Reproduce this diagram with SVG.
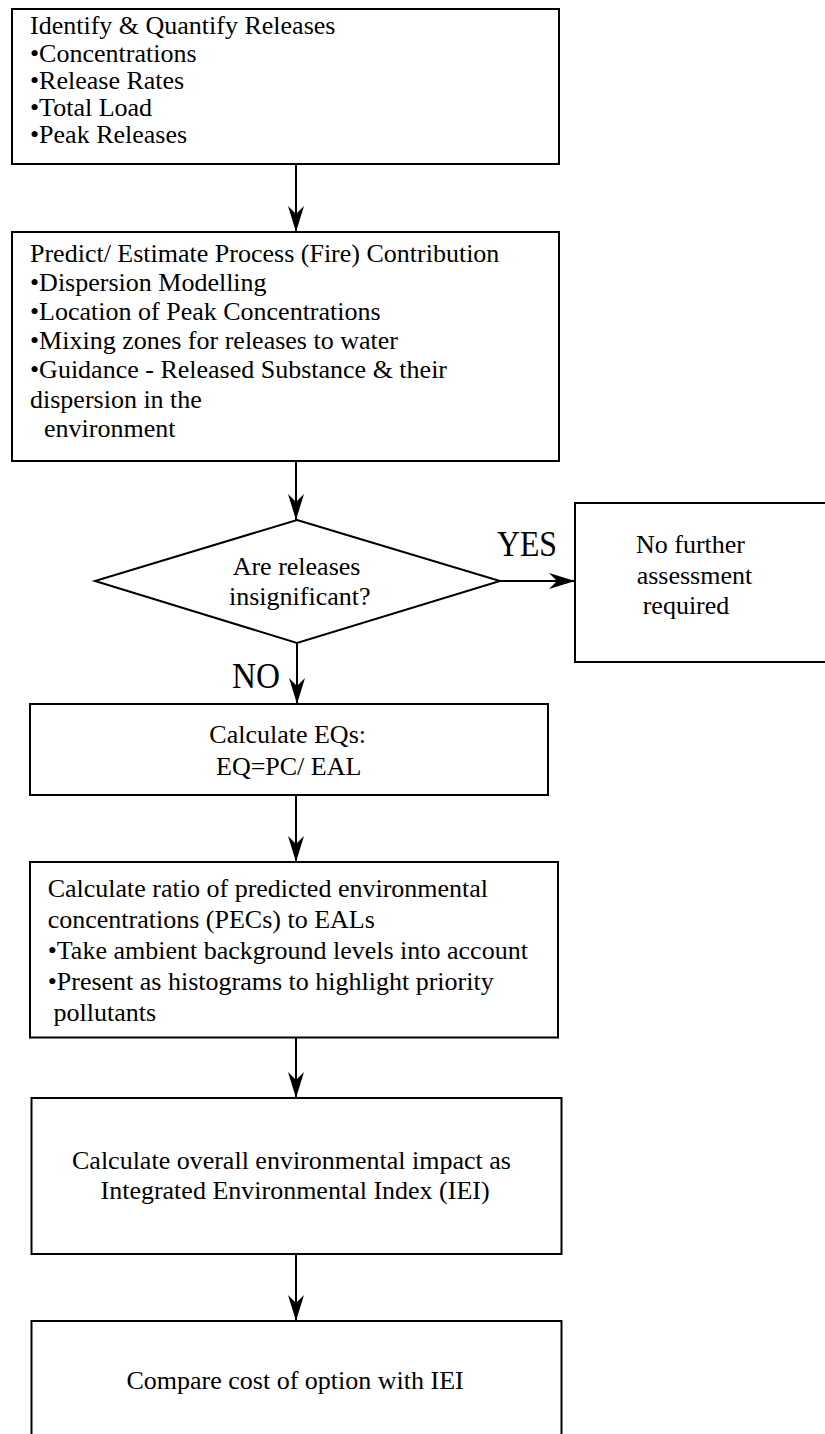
<svg xmlns="http://www.w3.org/2000/svg" width="825" height="1434" viewBox="0 0 825 1434">
  <style>
    .box { fill: #ffffff; stroke: #000000; stroke-width: 2; }
    .lbl { font-family: "Liberation Serif", "Times New Roman", serif; font-size: 26px; fill: #000000; }
    .big { font-family: "Liberation Serif", "Times New Roman", serif; font-size: 35px; fill: #000000; }
    .link { stroke: #000000; stroke-width: 2; fill: none; marker-end: url(#head); }
  </style>
  <defs>
    <marker id="head" viewBox="0 0 28 18" markerWidth="28" markerHeight="18" refX="26" refY="9" orient="auto" markerUnits="userSpaceOnUse">
      <path d="M0,1 L26,9 L0,17 L8,9 Z" fill="#000000"/>
    </marker>
  </defs>
  <rect width="825" height="1434" fill="#ffffff"/>

  <!-- flow connectors -->
  <g id="connectors">
    <line class="link" x1="296" y1="164" x2="296" y2="232"/>
    <line class="link" x1="296" y1="461" x2="296" y2="520"/>
    <line class="link" x1="500" y1="581" x2="575" y2="581"/>
    <line class="link" x1="297" y1="643" x2="297" y2="704"/>
    <line class="link" x1="296" y1="795" x2="296" y2="862"/>
    <line class="link" x1="296" y1="1031" x2="296" y2="1098"/>
    <line class="link" x1="296" y1="1254" x2="296" y2="1321"/>
    <text class="big" x="497" y="556" textLength="60" lengthAdjust="spacingAndGlyphs">YES</text>
    <text class="big" x="232" y="688" textLength="48" lengthAdjust="spacingAndGlyphs">NO</text>
  </g>

  <g id="identify">
    <rect class="box" x="12" y="9" width="547" height="155"/>
    <text class="lbl" x="30" y="34.3">Identify &amp; Quantify Releases</text>
    <text class="lbl" x="30" y="61.5">•Concentrations</text>
    <text class="lbl" x="30" y="88.7">•Release Rates</text>
    <text class="lbl" x="30" y="115.9">•Total Load</text>
    <text class="lbl" x="30" y="143.1">•Peak Releases</text>
  </g>

  <g id="predict">
    <rect class="box" x="12" y="232" width="547" height="229"/>
    <text class="lbl" x="30" y="261.7">Predict/ Estimate Process (Fire) Contribution</text>
    <text class="lbl" x="30" y="290.9">•Dispersion Modelling</text>
    <text class="lbl" x="30" y="320">•Location of Peak Concentrations</text>
    <text class="lbl" x="30" y="349.2">•Mixing zones for releases to water</text>
    <text class="lbl" x="30" y="378.4">•Guidance - Released Substance &amp; their</text>
    <text class="lbl" x="30" y="407.5">dispersion in the</text>
    <text class="lbl" x="44" y="436.7">environment</text>
  </g>

  <g id="decision">
    <polygon class="box" points="297,520 500,581 297,643 95,581"/>
    <text class="lbl" x="232.7" y="575">Are releases</text>
    <text class="lbl" x="229" y="605">insignificant?</text>
  </g>

  <g id="no-further">
    <rect class="box" x="575" y="503" width="262" height="159"/>
    <text class="lbl" x="636" y="553">No further</text>
    <text class="lbl" x="636.7" y="584">assessment</text>
    <text class="lbl" x="642.7" y="614">required</text>
  </g>

  <g id="calc-eq">
    <rect class="box" x="30" y="704" width="518" height="91"/>
    <text class="lbl" x="209.3" y="742.7">Calculate EQs:</text>
    <text class="lbl" x="216" y="775">EQ=PC/ EAL</text>
  </g>

  <g id="calc-pec">
    <rect class="box" x="30" y="862" width="528" height="175.5"/>
    <text class="lbl" x="47.7" y="897">Calculate ratio of predicted environmental</text>
    <text class="lbl" x="47.7" y="927.5">concentrations (PECs) to EALs</text>
    <text class="lbl" x="47.7" y="959">•Take ambient background levels into account</text>
    <text class="lbl" x="47.7" y="990">•Present as histograms to highlight priority</text>
    <text class="lbl" x="53.5" y="1021">pollutants</text>
  </g>

  <g id="calc-iei">
    <rect class="box" x="31.5" y="1098" width="530" height="156"/>
    <text class="lbl" x="72" y="1169">Calculate overall environmental impact as</text>
    <text class="lbl" x="100.5" y="1199">Integrated Environmental Index (IEI)</text>
  </g>

  <g id="compare">
    <rect class="box" x="31.5" y="1321" width="530" height="130"/>
    <text class="lbl" x="126.5" y="1389">Compare cost of option with IEI</text>
  </g>
</svg>
